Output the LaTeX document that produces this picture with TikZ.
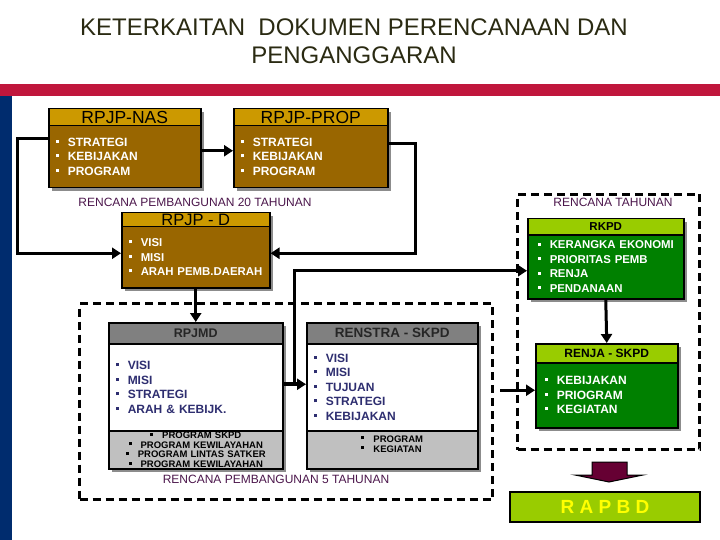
\documentclass[tikz,border=0pt]{standalone}
\usepackage{fontspec}
\setmainfont{Liberation Sans}
\usepackage{tikz}
\usetikzlibrary{arrows.meta,shadows,positioning}

\definecolor{emas}{HTML}{CC9900}
\definecolor{coklat}{HTML}{996600}
\definecolor{abu}{HTML}{808080}
\definecolor{abumuda}{HTML}{C0C0C0}
\definecolor{limau}{HTML}{99CC00}
\definecolor{hijau}{HTML}{008000}
\definecolor{biru}{HTML}{2E2E70}
\definecolor{ungu}{HTML}{4B164B}
\definecolor{merah}{HTML}{C0163C}
\definecolor{laut}{HTML}{002C6E}
\definecolor{marun}{HTML}{660033}
\definecolor{judul}{HTML}{2A2A12}
\definecolor{kuning}{HTML}{FFFF00}

\newcommand{\bul}{\rule[0.3em]{3pt}{3pt}\hspace{9pt}}
\newcommand{\butir}[1]{\mbox{\bul #1}}
\newcommand{\fhdr}{\fontsize{17.5}{18}\selectfont}
\newcommand{\fisi}{\fontsize{12}{14.5}\selectfont\bfseries}
\newcommand{\fisikecil}{\fontsize{11.4}{14.5}\selectfont\bfseries}
\newcommand{\fkecil}{\fontsize{9.5}{9.7}\selectfont\bfseries}

\tikzset{
  bayang/.style={drop shadow={shadow xshift=3pt,shadow yshift=-3pt,fill=black!45,opacity=1}},
  kepala/.style={draw, line width=1.5pt, anchor=north west, inner sep=0pt, bayang},
  isi/.style={draw, line width=1.5pt, anchor=north west, inner xsep=7pt, inner ysep=0pt, align=left, bayang},
  panah/.style={line width=3pt, -{Triangle[length=9pt,width=11pt]}},
  putus/.style={draw, line width=3pt, dash pattern=on 8pt off 5pt, anchor=north west, inner sep=0pt},
  ket/.style={text=ungu, font=\fontsize{12}{14}\selectfont}
}

\begin{document}
\begin{tikzpicture}[x=1pt,y=-1pt]
  \useasboundingbox (0,0) rectangle (720,540);

  % judul dan pita
  \node[text=judul, font=\fontsize{24}{28}\selectfont, align=center] (judul) at (354,41)
    {KETERKAITAN\ \ DOKUMEN PERENCANAAN DAN\\PENGANGGARAN};
  \fill[merah] (0,84) rectangle (720,96);
  \fill[laut] (0,96) rectangle (12,540);

  % bingkai putus-putus
  \node[putus, minimum width=413pt, minimum height=196pt] (lima) at (78,302) {};
  \node[putus, minimum width=182pt, minimum height=255pt] (tahun) at (516,193) {};

  % RPJP-NAS dan RPJP-PROP
  \node[kepala, fill=emas, minimum width=152pt, minimum height=17pt, font=\fhdr] (nasH) at (48,108) {RPJP-NAS};
  \node[isi, fill=coklat, text=white, text width=138pt, minimum height=62pt, font=\fisi] (nasB) at (48,125)
    {\butir{STRATEGI}\\\butir{KEBIJAKAN}\\\butir{PROGRAM}};
  \node[kepala, fill=emas, minimum width=154pt, minimum height=17pt, font=\fhdr] (propH) at (233,108) {RPJP-PROP};
  \node[isi, fill=coklat, text=white, text width=140pt, minimum height=62pt, font=\fisi] (propB) at (233,125)
    {\butir{STRATEGI}\\\butir{KEBIJAKAN}\\\butir{PROGRAM}};

  \node[ket] (ket20) at (195,202) {RENCANA PEMBANGUNAN 20 TAHUNAN};
  \node[ket] (kettahun) at (613,202) {RENCANA TAHUNAN};

  % RPJP-D
  \node[kepala, fill=emas, minimum width=148pt, minimum height=14pt, font=\fontsize{16.5}{16}\selectfont] (rpjpdH) at (121,212) {RPJP - D};
  \node[isi, fill=coklat, text=white, text width=134pt, minimum height=61pt, font=\fisikecil] (rpjpdB) at (121,226)
    {\butir{VISI}\\\butir{MISI}\\\butir{ARAH PEMB.DAERAH}};

  % RKPD dan RENJA-SKPD
  \node[kepala, fill=limau, minimum width=156pt, minimum height=16pt, font=\fontsize{11.5}{12}\selectfont\bfseries] (rkpdH) at (527,218) {RKPD};
  \node[isi, fill=hijau, text=white, inner xsep=10pt, text width=136pt, minimum height=64pt, font=\fisikecil] (rkpdB) at (527,234)
    {\butir{KERANGKA EKONOMI}\\\butir{PRIORITAS PEMB}\\\butir{RENJA}\\\butir{PENDANAAN}};
  \node[kepala, fill=limau, minimum width=142pt, minimum height=19pt, font=\fontsize{12}{12}\selectfont\bfseries] (renjaH) at (535,343) {RENJA - SKPD};
  \node[isi, fill=hijau, text=white, inner xsep=9pt, text width=124pt, minimum height=65pt, font=\fisi] (renjaB) at (535,362)
    {\butir{KEBIJAKAN}\\\butir{PRIOGRAM}\\\butir{KEGIATAN}\\[6pt]};

  % RPJMD dan RENSTRA-SKPD
  \node[kepala, fill=abu, text=black!85, minimum width=174pt, minimum height=21pt, font=\fontsize{12.5}{13}\selectfont\bfseries] (rpjmdH) at (108,322) {RPJMD};
  \node[isi, fill=white, text=biru, text width=160pt, minimum height=87pt, font=\fisi] (rpjmdB) at (108,343)
    {\butir{VISI}\\\butir{MISI}\\\butir{STRATEGI}\\\butir{ARAH \& KEBIJK.}\\[12pt]};
  \node[isi, fill=abumuda, align=center, text width=160pt, minimum height=38pt, font=\fkecil] (rpjmdC) at (108,430)
    {\butir{PROGRAM SKPD}\\\butir{PROGRAM KEWILAYAHAN}\\\butir{PROGRAM LINTAS SATKER}\\\butir{PROGRAM KEWILAYAHAN}};
  \node[kepala, fill=abu, text=black!85, minimum width=171pt, minimum height=21pt, font=\fontsize{13.5}{14}\selectfont\bfseries] (renstraH) at (306,322) {RENSTRA - SKPD};
  \node[isi, fill=white, text=biru, text width=157pt, minimum height=87pt, font=\fisi] (renstraB) at (306,343)
    {\butir{VISI}\\\butir{MISI}\\\butir{TUJUAN}\\\butir{STRATEGI}\\\butir{KEBIJAKAN}};
  \node[isi, fill=abumuda, align=center, text width=157pt, minimum height=38pt, font=\fkecil] (renstraC) at (306,430)
    {\begin{tabular}{@{}l@{}}\butir{PROGRAM}\\\butir{KEGIATAN}\\[9pt]\end{tabular}};

  \node[ket] (ket5) at (276,479) {RENCANA PEMBANGUNAN 5 TAHUNAN};

  % RAPBD
  \node[draw, line width=2pt, fill=limau, minimum width=190pt, minimum height=30pt, text=kuning,
        font=\fontsize{19}{19}\selectfont\bfseries] (rapbd) at (605,507) {R A P B D};

  % penghubung
  \draw[panah] ([yshift=6pt]nasB.east) -- ([yshift=6pt]propB.west);
  \draw[panah] ([yshift=13pt]propB.east) -- ++(27,0) |- ([yshift=4pt]rpjpdB.east);
  \draw[panah] ([yshift=18pt]nasB.west) -- ++(-31,0) |- ([yshift=4pt]rpjpdB.west);
  \draw[panah] (rpjpdB.south) -- (rpjmdH.north);
  \draw[panah, line width=4pt] ([yshift=3pt]rpjmdB.east) -- ([yshift=3pt]renstraB.west);
  \coordinate (simpang) at ([xshift=11pt,yshift=3pt]rpjmdB.east);
  \draw[panah] (simpang) |- ([yshift=-4pt]rkpdB.west);
  \draw[panah] (rkpdB.south) -- (renjaH.north);
  \coordinate (rj) at ([yshift=5pt]renjaB.west);
  \coordinate (lk) at ([xshift=6pt]lima.east);
  \draw[panah] (rj -| lk) -- (rj);

  % panah blok ke RAPBD
  \filldraw[fill=marun, line width=1pt] (592,462) -- (627,462) -- (627,475) -- (643,475)
    -- (609,482) -- (575,475) -- (592,475) -- cycle;
\end{tikzpicture}
\end{document}
